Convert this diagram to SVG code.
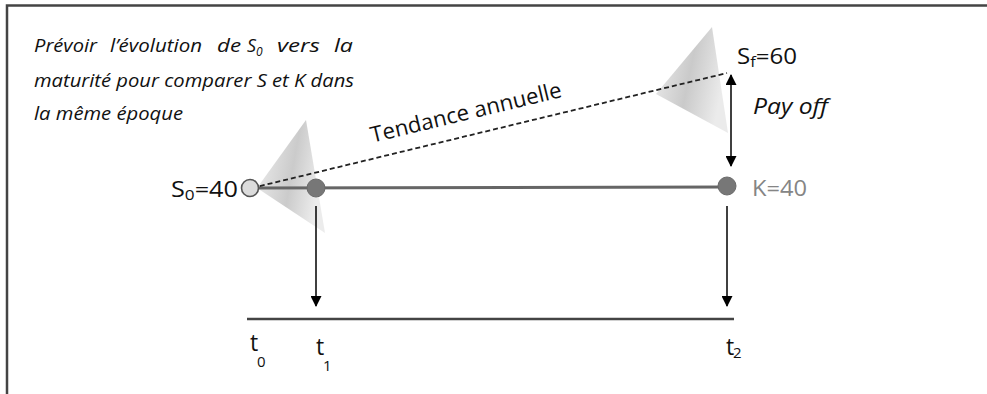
<svg xmlns="http://www.w3.org/2000/svg" width="987" height="394" viewBox="0 0 987 394">
<style>
.frame{stroke:#444;stroke-width:2.5;fill:none}
.t{font-family:"Open Sans","Liberation Sans",sans-serif;fill:#111}
.it{font-style:italic}
.n{font-size:18px}
.axis{stroke:#444;stroke-width:2.5}
.bar{stroke:#666;stroke-width:3}
.arr{stroke:#000;stroke-width:1.5;fill:none}
.dash{stroke:#222;stroke-width:1.8;stroke-dasharray:5 3;fill:none}
.dot{fill:#777;stroke:#6a6a6a;stroke-width:1}
</style>
<defs>
<marker id="ah" viewBox="0 0 10 10" refX="9" refY="5" markerWidth="12" markerHeight="11" markerUnits="userSpaceOnUse" orient="auto-start-reverse">
<path d="M0,0 L10,5 L0,10 Z" fill="#000"/>
</marker>
<linearGradient id="cone1" x1="0" y1="0" x2="1" y2="0.3">
<stop offset="0" stop-color="#f0f0f0"/>
<stop offset="0.6" stop-color="#cbcbcb"/>
<stop offset="1" stop-color="#ececec"/>
</linearGradient>
<linearGradient id="cone2" x1="0" y1="0" x2="1" y2="0.3">
<stop offset="0" stop-color="#eeeeee"/>
<stop offset="0.55" stop-color="#cacaca"/>
<stop offset="1" stop-color="#ebebeb"/>
</linearGradient>
</defs>
<rect width="987" height="394" fill="#fff"/>
<path class="frame" d="M7,394 V5.5 H987"/>

<g id="note">
<text class="t it n" y="52"><tspan x="34" textLength="63" lengthAdjust="spacingAndGlyphs">Prévoir</tspan><tspan x="110" textLength="92" lengthAdjust="spacingAndGlyphs">l’évolution</tspan><tspan x="217" textLength="24" lengthAdjust="spacingAndGlyphs">de</tspan><tspan x="247">S</tspan><tspan font-size="12" dy="4">0</tspan><tspan dy="-4" x="277" textLength="43" lengthAdjust="spacingAndGlyphs">vers</tspan><tspan x="334" textLength="19" lengthAdjust="spacingAndGlyphs">la</tspan></text>
<text class="t it n" x="34" y="87" textLength="320" lengthAdjust="spacingAndGlyphs">maturité pour comparer S et K dans</text>
<text class="t it n" x="34" y="120" textLength="149" lengthAdjust="spacingAndGlyphs">la même époque</text>
</g>

<g id="cones">
<polygon points="306,120 257,188 325,233" fill="url(#cone1)"/>
<polygon points="712,27 656,94 728,133" fill="url(#cone2)"/>
</g>

<g id="connectors">
<line class="bar" x1="250" y1="188" x2="727" y2="187"/>
<line class="dash" x1="252" y1="188" x2="727" y2="73"/>
<line class="arr" x1="731" y1="75" x2="731" y2="166" marker-start="url(#ah)" marker-end="url(#ah)"/>
<line class="arr" x1="316" y1="206" x2="316" y2="306" marker-end="url(#ah)"/>
<line class="arr" x1="727" y1="206" x2="727" y2="306" marker-end="url(#ah)"/>
<line class="axis" x1="247" y1="319" x2="734" y2="319"/>
</g>

<g id="s0">
<circle cx="250" cy="188" r="8.5" fill="#dcdcdc" stroke="#555" stroke-width="1.6"/>
<text class="t" font-size="22" x="238" y="197" text-anchor="end" textLength="67" lengthAdjust="spacingAndGlyphs">S<tspan font-size="15" dy="3">0</tspan><tspan dy="-3">=40</tspan></text>
</g>

<g id="t1node"><circle class="dot" cx="316" cy="188" r="9"/></g>

<g id="k">
<circle class="dot" cx="727" cy="186" r="9"/>
<text class="t" font-size="22" x="752" y="196" style="fill:#858585" textLength="55" lengthAdjust="spacingAndGlyphs">K=40</text>
</g>

<g id="sf">
<text class="t" font-size="22" x="737" y="64" textLength="60" lengthAdjust="spacingAndGlyphs">S<tspan font-size="15" dy="3">f</tspan><tspan dy="-3">=60</tspan></text>
</g>

<g id="payoff">
<text class="t it" font-size="22" x="753" y="114" textLength="75" lengthAdjust="spacingAndGlyphs">Pay off</text>
</g>

<g id="trend">
<text class="t" font-size="22" x="466" y="120" text-anchor="middle" transform="rotate(-13.6 466 113)" fill="#222" textLength="196" lengthAdjust="spacingAndGlyphs">Tendance annuelle</text>
</g>

<g id="labels">
<text class="t" font-size="23" x="250" y="351">t</text>
<text class="t" font-size="15" x="257" y="367">0</text>
<text class="t" font-size="23" x="316" y="355">t</text>
<text class="t" font-size="15" x="323" y="371">1</text>
<text class="t" font-size="23" x="726" y="355">t</text>
<text class="t" font-size="15" x="733" y="358">2</text>
</g>
</svg>
